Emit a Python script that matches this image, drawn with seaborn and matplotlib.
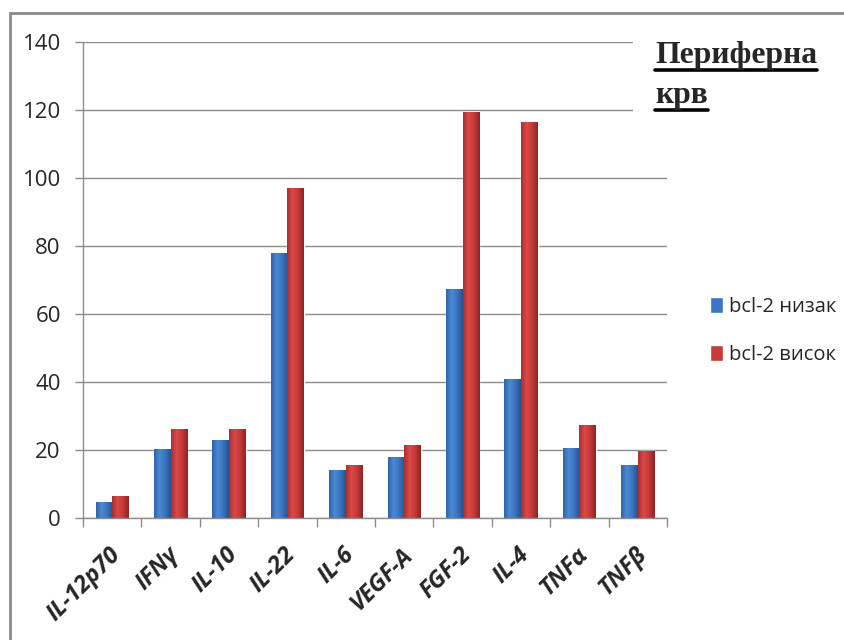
import pandas as pd
import numpy as np
import matplotlib
matplotlib.use("Agg")
import matplotlib.pyplot as plt
import matplotlib.transforms as mtransforms
from matplotlib.colors import LinearSegmentedColormap
from matplotlib.patches import Rectangle
from matplotlib.lines import Line2D
import seaborn as sns

# data
cytokines = ['IL-12p70', 'IFNγ', 'IL-10', 'IL-22', 'IL-6', 'VEGF-A', 'FGF-2', 'IL-4', 'TNFα', 'TNFβ']
bcl2_low = [4.6, 20.2, 22.9, 77.8, 14.1, 17.8, 67.3, 41.0, 20.6, 15.5]
bcl2_high = [6.4, 26.3, 26.3, 97.2, 15.5, 21.6, 119.5, 116.4, 27.3, 19.6]
groups = ['bcl-2 низак', 'bcl-2 висок']
title_lines = ['Периферна', 'крв']

df = pd.DataFrame({
    'cytokine': cytokines * 2,
    'value': bcl2_low + bcl2_high,
    'group': [groups[0]] * len(cytokines) + [groups[1]] * len(cytokines),
})

sns.set_style("white")
plt.rcParams['font.family'] = ['Open Sans', 'DejaVu Sans']

W, H = 844, 640
fig = plt.figure(figsize=(W / 100, H / 100), dpi=100)
ax = fig.add_axes([83 / W, 1 - 518 / H, (667 - 83) / W, (518 - 42) / H])

colors = {groups[0]: '#3a76c4', groups[1]: '#c93a3a'}
sns.barplot(data=df, x='cytokine', y='value', hue='group', palette=colors,
            width=0.57, saturation=1, ax=ax, legend=False)

# cylinder-ish shading on each bar
grads = {
    groups[0]: LinearSegmentedColormap.from_list('b', ['#2f64ab', '#4b88d4', '#3a74bf', '#26528e']),
    groups[1]: LinearSegmentedColormap.from_list('r', ['#a83030', '#dc4848', '#c23838', '#8e2424']),
}
grad = np.linspace(0, 1, 64).reshape(1, -1)
for cont, g in zip(ax.containers, groups):
    for p in cont.patches:
        x0, y0 = p.get_x(), p.get_y()
        im = ax.imshow(grad, cmap=grads[g], aspect='auto', zorder=p.get_zorder() + 0.1,
                       extent=[x0, x0 + p.get_width(), y0, y0 + p.get_height()])
        im.set_clip_path(p)

ax.set_xlim(-0.5, len(cytokines) - 0.5)
ax.set_ylim(0, 140)
ax.set_yticks(range(0, 141, 20))
ax.set_xlabel('')
ax.set_ylabel('')

grid_c = '#8c8c8c'
ax.yaxis.grid(True, color=grid_c, linewidth=1)
ax.set_axisbelow(True)
for s in ['top', 'right']:
    ax.spines[s].set_visible(False)
for s in ['left', 'bottom']:
    ax.spines[s].set_color(grid_c)
    ax.spines[s].set_linewidth(1)

ax.tick_params(axis='y', direction='out', length=6, width=1, color=grid_c,
               pad=10, labelsize=16, left=True)
ax.set_xticks(np.arange(-0.5, len(cytokines), 1), minor=True)
ax.tick_params(axis='x', which='minor', direction='out', length=6.5, width=1,
               color=grid_c, bottom=True)
ax.tick_params(axis='x', which='major', length=0, pad=24)
ax.set_xticks(range(len(cytokines)))
ax.set_xticklabels(cytokines, rotation=45, ha='right', rotation_mode='anchor',
                   fontsize=17, fontweight='bold', fontstyle='italic', va='center')
shift = mtransforms.ScaledTranslation(5 / 100, 0, fig.dpi_scale_trans)
for lab in ax.get_xticklabels():
    lab.set_transform(lab.get_transform() + shift)

# legend
handles = [Rectangle((0, 0), 1, 1, facecolor=colors[g]) for g in groups]
fig.legend(handles, groups, loc='center left', bbox_to_anchor=(700 / W, 1 - 331 / H),
           frameon=False, fontsize=14.5, handlelength=0.65, handleheight=0.85,
           handletextpad=0.3, labelspacing=1.35, borderpad=0)

# white patch behind the title (gridlines stop short there)
fig.patches.append(Rectangle((633 / W, 1 - 130 / H), 40 / W, 100 / H,
                             transform=fig.transFigure, facecolor='white',
                             edgecolor='none', zorder=2))

# title, bold serif, underlined
texts = []
for line, base in zip(title_lines, [63, 103]):
    t = fig.text(655 / W, 1 - base / H, line, fontsize=22.8, fontweight='bold',
                 family=['Liberation Serif', 'DejaVu Serif'], va='baseline',
                 ha='left', zorder=3)
    texts.append((t, base))
fig.canvas.draw()
r = fig.canvas.get_renderer()
for t, base in texts:
    bb = t.get_window_extent(r)
    yy = 1 - (base + 6.5) / H
    fig.add_artist(Line2D([bb.x0 / W, bb.x1 / W], [yy, yy], transform=fig.transFigure,
                          color='black', linewidth=2.6, zorder=3))

# outer chart border
fig.patches.append(Rectangle((10 / W, -0.1), 1.2, 1 - 13 / H + 0.1,
                             transform=fig.transFigure, facecolor='none',
                             edgecolor='#8a8a8a', linewidth=2, zorder=0))

fig.savefig('out.png', dpi=100)
